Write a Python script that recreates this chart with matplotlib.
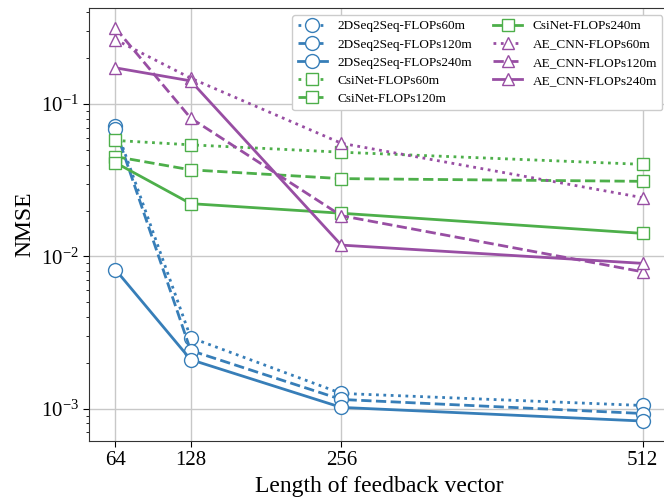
import numpy as np
import matplotlib
matplotlib.use("Agg")
import matplotlib.pyplot as plt

plt.rcParams['font.family'] = ['Liberation Serif', 'DejaVu Serif']
plt.rcParams['mathtext.fontset'] = 'stix'

# feedback vector lengths
x_vals = [64, 128, 256, 512]

# 2DSeq2Seq
seq_60 = [0.0713, 0.00293, 0.00126, 0.00105]
seq_120 = [0.0685, 0.00241, 0.00115, 0.00093]
seq_240 = [0.0082, 0.00210, 0.00102, 0.00083]

# CsiNet
csi_60 = [0.0577, 0.0540, 0.0483, 0.0402]
csi_120 = [0.0452, 0.0370, 0.0324, 0.0311]
csi_240 = [0.0413, 0.0222, 0.0192, 0.01416]

# AE_CNN
ae_60 = [0.265, 0.148, 0.0553, 0.0243]
ae_120 = [0.316, 0.0809, 0.0185, 0.00792]
ae_240 = [0.173, 0.142, 0.01186, 0.0090]

blue = '#377eb8'
green = '#4daf4a'
purple = '#984ea3'

series = [
    ('2DSeq2Seq-FLOPs60m', seq_60, blue, ':', 'o'),
    ('2DSeq2Seq-FLOPs120m', seq_120, blue, '--', 'o'),
    ('2DSeq2Seq-FLOPs240m', seq_240, blue, '-', 'o'),
    ('CsiNet-FLOPs60m', csi_60, green, ':', 's'),
    ('CsiNet-FLOPs120m', csi_120, green, '--', 's'),
    ('CsiNet-FLOPs240m', csi_240, green, '-', 's'),
    ('AE_CNN-FLOPs60m', ae_60, purple, ':', '^'),
    ('AE_CNN-FLOPs120m', ae_120, purple, '--', '^'),
    ('AE_CNN-FLOPs240m', ae_240, purple, '-', '^'),
]

fig = plt.figure(figsize=(6.64, 4.97), dpi=100)
ax = fig.add_axes([0.134, 0.1133, 0.8735, 0.870])

for label, vals, color, ls, marker in series:
    ms = 10 if marker == 'o' else 9
    ax.plot(x_vals, vals, linestyle=ls, color=color, linewidth=2,
            marker=marker, markersize=ms, markerfacecolor='white',
            markeredgecolor=color, markeredgewidth=1.0, label=label)

ax.set_yscale('log')
ax.set_xticks(x_vals)
ax.set_xticklabels([str(v) for v in x_vals])
ax.tick_params(axis='both', which='major', labelsize=15, direction='out', length=4)
ax.tick_params(axis='y', which='minor', length=2.5)
ax.minorticks_on()
ax.tick_params(axis='x', which='minor', bottom=False)
ax.grid(True, which='major', color='#c8c8c8', linewidth=1)
ax.set_axisbelow(True)
for sp in ax.spines.values():
    sp.set_color('#333333')

ax.set_xlabel('Length of feedback vector', fontsize=17)
ax.set_ylabel('NMSE', fontsize=17)

leg = ax.legend(ncol=2, fontsize=9.5, loc='upper right', framealpha=1,
                edgecolor='#cccccc', handlelength=2.2, columnspacing=1.6,
                labelspacing=0.45)

fig.savefig('out.png', dpi=100)
